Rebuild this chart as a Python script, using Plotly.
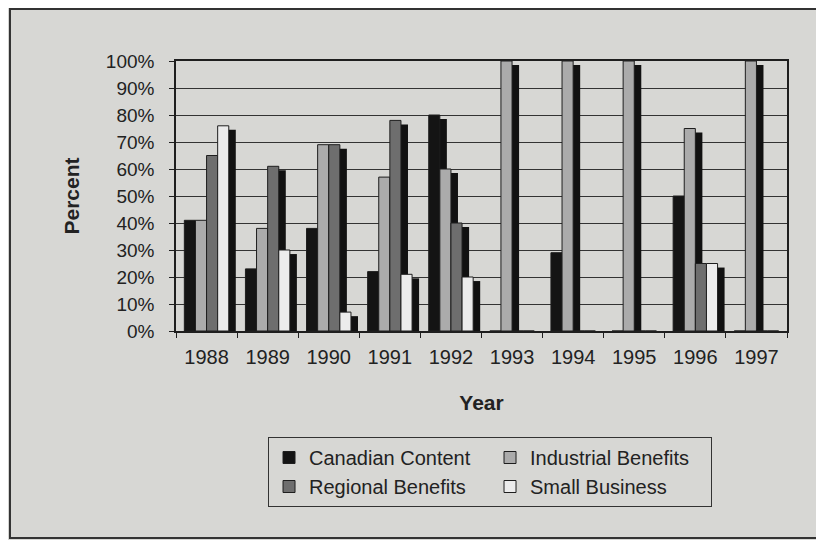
import plotly.graph_objects as go

years = ["1988", "1989", "1990", "1991", "1992", "1993", "1994", "1995", "1996", "1997"]
canadian_content = [41, 23, 38, 22, 80, 0, 29, 0, 50, 0]
industrial_benefits = [41, 38, 69, 57, 60, 100, 100, 100, 75, 100]
regional_benefits = [65, 61, 69, 78, 40, 0, 0, 0, 25, 0]
small_business = [76, 30, 7, 21, 20, 0, 0, 0, 25, 0]

series = [
    ("Canadian Content", canadian_content, "#141414"),
    ("Industrial Benefits", industrial_benefits, "#ababab"),
    ("Regional Benefits", regional_benefits, "#6e6e6e"),
    ("Small Business", small_business, "#ececec"),
]

BG = "#d7d7d4"
INK = "#1e1e1e"
bar_w = 1 / 5.5
shadow_dx = 0.115
shadow_dy = 1.5

fig = go.Figure()
for i, (name, vals, color) in enumerate(series):
    off = -2 * bar_w + i * bar_w
    # drop shadow
    fig.add_trace(go.Bar(
        x=years, y=vals, base=-shadow_dy, width=bar_w, offset=off + shadow_dx,
        marker=dict(color="#111111", line=dict(width=0)),
        showlegend=False, hoverinfo="skip",
    ))
    fig.add_trace(go.Bar(
        x=years, y=vals, width=bar_w, offset=off, name=name,
        marker=dict(color=color, line=dict(color=INK, width=1)),
    ))

fig.update_layout(
    width=816, height=532,
    barmode="overlay",
    paper_bgcolor=BG, plot_bgcolor=BG,
    margin=dict(l=168, r=37, t=53, b=209, autoexpand=False),
    font=dict(family="Liberation Sans, Arial, sans-serif", color="#222222"),
    showlegend=True,
    legend=dict(
        orientation="h", x=0.1506, xanchor="left", y=-0.3926, yanchor="top",
        bgcolor=BG, bordercolor="#333333", borderwidth=1,
        font=dict(size=20, color="#222222"),
        entrywidth=176, traceorder="normal",
        itemwidth=30,
    ),
    shapes=[dict(
        type="rect", xref="paper", yref="paper",
        x0=-0.2717, x1=1.07, y0=-0.7667, y1=1.1926,
        line=dict(color="#333333", width=2), layer="below",
    )],
)

fig.update_xaxes(
    type="category", range=[-0.5, 9.5], automargin=False,
    showline=True, mirror=True, linecolor=INK, linewidth=1.5,
    ticks="outside", tickson="boundaries", ticklen=5, tickcolor=INK,
    tickfont=dict(size=20, color="#222222"), ticklabelstandoff=7,
    showgrid=False,
    title=dict(text="<b>Year</b>", font=dict(size=21, color="#222222"), standoff=29),
)
fig.update_yaxes(
    range=[0, 100], dtick=10, ticksuffix="%", automargin=False,
    showline=True, mirror=True, linecolor=INK, linewidth=1.5,
    ticks="outside", ticklen=5, tickcolor=INK,
    tickfont=dict(size=19, color="#222222"), ticklabelstandoff=11,
    showgrid=True, gridcolor="#333333", gridwidth=1,
    zeroline=False,
    title=dict(text="<b>Percent</b>", font=dict(size=21, color="#222222"), standoff=20),
)

fig.write_html("out.html")
